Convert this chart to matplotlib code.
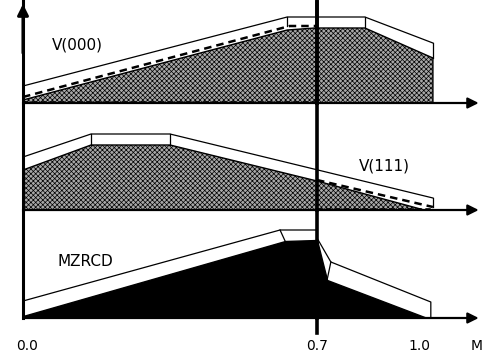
import numpy as np
import matplotlib
matplotlib.use('Agg')
import matplotlib.pyplot as plt

plt.rcParams['font.family'] = ['DejaVu Sans']
plt.rcParams['hatch.color'] = '#3c3c3c'
plt.rcParams['hatch.linewidth'] = 0.5

# ---- data (x in units of M) ----
# panel 1: V(000)
p1_fill_x = [0.0, 0.629, 0.695, 0.814, 0.976]
p1_fill_y = [0.03, 0.73, 0.75, 0.75, 0.45]
p1_band_x = [0.0, 0.629, 0.814, 0.976]
p1_band_y = [0.17, 0.86, 0.86, 0.60]
p1_dash_x = [0.0, 0.635, 0.70]
p1_dash_y = [0.06, 0.77, 0.77]

# panel 2: V(111)
p2_fill_x = [0.0, 0.162, 0.35, 0.70, 0.955]
p2_fill_y = [0.40, 0.65, 0.65, 0.29, 0.0]
p2_band_x = [0.0, 0.162, 0.35, 0.976]
p2_band_y = [0.53, 0.76, 0.76, 0.12]
p2_dash_x = [0.70, 0.976]
p2_dash_y = [0.30, 0.03]

# panel 3: MZRCD
p3_fill_x = [0.0, 0.624, 0.70, 0.724, 0.962]
p3_fill_y = [0.02, 0.77, 0.78, 0.38, 0.0]
p3_band_left_x = [0.0, 0.612, 0.70]
p3_band_left_y = [0.17, 0.88, 0.88]
p3_band_right_x = [0.70, 0.733, 0.971, 0.971]
p3_band_right_y = [0.80, 0.56, 0.16, 0.0]

split_M = 0.7
tick_pos = [0.01, 0.70, 0.945]
tick_labels = ['0.0', '0.7', '1.0']

W, H = 486, 360
x0_px, px_per_M = 23, 420
xlim = (-x0_px / px_per_M, (W - x0_px) / px_per_M)

fig = plt.figure(figsize=(W / 100, H / 100), dpi=100)


def make_axes(top_px, base_px):
    h = base_px - top_px
    ax = fig.add_axes([0, (H - base_px) / H, 1, h / H])
    ax.set_xlim(*xlim)
    ax.set_ylim(0, h / 100)
    ax.axis('off')
    return ax


ax1 = make_axes(0, 103)
ax2 = make_axes(103, 210)
ax3 = make_axes(210, 318)

gray = dict(facecolor='#a8a8a8', edgecolor='black', linewidth=1.0, hatch='xxxxxxx')

# ---- panel 1 ----
ax1.fill_between(p1_fill_x, p1_fill_y, 0, **gray, zorder=2)
ax1.plot(p1_band_x, p1_band_y, color='black', lw=0.9, zorder=3)
ax1.plot([0.629, 0.629], [0.77, 0.86], color='black', lw=0.9)
ax1.plot([0.814, 0.814], [0.75, 0.86], color='black', lw=0.9)
ax1.plot([0.976, 0.976], [0.45, 0.60], color='black', lw=0.9)
ax1.plot(p1_dash_x, p1_dash_y, color='black', lw=1.8, ls=(0, (3, 2)), zorder=4)
ax1.plot([0, split_M], [0, 0], color='black', lw=2.6, ls=(0, (1.5, 1)), zorder=5)
ax1.text(0.13, 0.58, 'V(000)', fontsize=11, ha='center', va='center')

# ---- panel 2 ----
ax2.fill_between(p2_fill_x, p2_fill_y, 0, **gray, zorder=2)
ax2.plot(p2_band_x, p2_band_y, color='black', lw=0.9, zorder=3)
ax2.plot([0.162, 0.162], [0.65, 0.76], color='black', lw=0.9)
ax2.plot([0.35, 0.35], [0.65, 0.76], color='black', lw=0.9)
ax2.plot([0.976, 0.976], [0.03, 0.12], color='black', lw=0.9)
ax2.plot(p2_dash_x, p2_dash_y, color='black', lw=1.8, ls=(0, (3, 2)), zorder=4)
ax2.plot([split_M, 0.976], [0, 0], color='black', lw=2.6, ls=(0, (1.5, 1)), zorder=5)
ax2.text(0.86, 0.44, 'V(111)', fontsize=11, ha='center', va='center')

# ---- panel 3 ----
ax3.fill_between(p3_fill_x, p3_fill_y, 0, facecolor='black', edgecolor='black', zorder=2)
ax3.plot(p3_band_left_x, p3_band_left_y, color='black', lw=0.9, zorder=3)
ax3.plot(p3_band_right_x, p3_band_right_y, color='black', lw=0.9, zorder=3)
ax3.plot([0.612, 0.624], [0.88, 0.77], color='black', lw=0.9)
ax3.plot([0.733, 0.724], [0.56, 0.38], color='black', lw=0.9)
ax3.text(0.148, 0.57, 'MZRCD', fontsize=11, ha='center', va='center')

# ---- axes: baselines with arrows, left axis, split line ----
for ax in (ax1, ax2, ax3):
    ax.annotate('', xy=(1.085, 0), xytext=(0, 0),
                arrowprops=dict(arrowstyle='-|>', color='black', lw=1.6,
                                mutation_scale=16, shrinkA=0, shrinkB=0),
                annotation_clip=False, zorder=6)
    ax.axvline(0, color='black', lw=2.2, zorder=6, clip_on=False)
    ax.axvline(split_M, color='black', lw=2.6, zorder=7, clip_on=False)

ax1.annotate('', xy=(0, 0.99), xytext=(0, 0.5),
             arrowprops=dict(arrowstyle='-|>', color='black', lw=2.2,
                             mutation_scale=16, shrinkA=0, shrinkB=0),
             annotation_clip=False, zorder=6)
ax1.plot([split_M, split_M], [0, 1.01], color='black', lw=2.6, zorder=7, clip_on=False)
ax3.plot([split_M, split_M], [0, -0.15], color='black', lw=2.6, zorder=7, clip_on=False)

for pos, lab in zip(tick_pos, tick_labels):
    ax3.text(pos, -0.28, lab, fontsize=10, ha='center', va='center', clip_on=False)
ax3.text(1.08, -0.28, 'M', fontsize=10, ha='center', va='center', clip_on=False)

fig.savefig('out.png', dpi=100)
